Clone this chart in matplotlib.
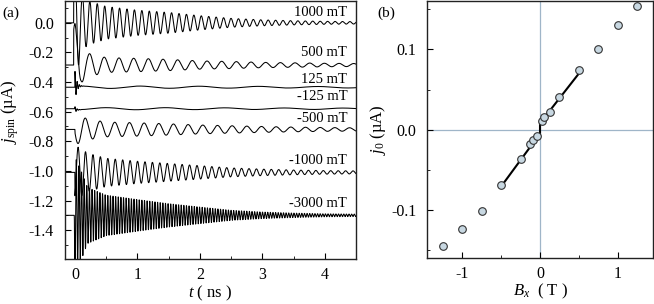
import numpy as np
import matplotlib
matplotlib.use("Agg")
import matplotlib.pyplot as plt
from matplotlib.ticker import MultipleLocator, FormatStrFormatter

plt.rcParams['font.family'] = ['Liberation Serif', 'DejaVu Serif']
plt.rcParams['mathtext.fontset'] = 'custom'
plt.rcParams['mathtext.rm'] = 'Liberation Serif'
plt.rcParams['mathtext.it'] = 'Liberation Serif:italic'
plt.rcParams['axes.unicode_minus'] = False

# ---- panel (a): spin current traces ----
field_labels = ['1000 mT', '500 mT', '125 mT', '-125 mT', '-500 mT', '-1000 mT', '-3000 mT']
offsets = [0.0, -0.285, -0.435, -0.58, -0.72, -1.01, -1.30]
periods = [0.119, 0.235, 0.95, 0.95, 0.235, 0.119, 0.042]     # ns
phase_t0 = [0.0, 0.0, 1.04, 0.5, 0.05, 0.05, 0.0]             # ns
signs = [1, 1, 1, 1, -1, 1, -1]
start_t = [-0.02, -0.02, 0.0, 0.0, 0.0, 0.0, -0.01]
env_t = [0, 0.1, 0.2, 0.5, 1, 1.5, 2, 2.5, 3, 3.5, 4, 4.5]
env_1000 = [0.40, 0.20, 0.15, 0.11, 0.085, 0.07, 0.048, 0.03, 0.02, 0.014, 0.01, 0.008]
env_500 = [0.28, 0.12, 0.08, 0.05, 0.045, 0.038, 0.028, 0.024, 0.018, 0.015, 0.012, 0.01]
env_125 = [0.008, 0.008, 0.008, 0.008, 0.008, 0.007, 0.007, 0.006, 0.006, 0.005, 0.005, 0.005]
env_m125 = [0.007, 0.007, 0.007, 0.007, 0.007, 0.007, 0.006, 0.006, 0.005, 0.005, 0.005, 0.004]
env_m500 = [0.10, 0.09, 0.07, 0.05, 0.045, 0.038, 0.03, 0.025, 0.02, 0.016, 0.013, 0.011]
env_m1000 = [0.18, 0.16, 0.13, 0.095, 0.075, 0.06, 0.045, 0.03, 0.022, 0.016, 0.012, 0.01]
env_m3000 = [0.40, 0.30, 0.19, 0.137, 0.107, 0.079, 0.056, 0.034, 0.022, 0.015, 0.01, 0.008]
envelopes = [env_1000, env_500, env_125, env_m125, env_m500, env_m1000, env_m3000]
kick_amp = [0, 0, 0.10, 0.02, 0, 0, 0]   # short ringing at t=0
label_y = [0.07, -0.20, -0.38, -0.50, -0.645, -0.93, -1.22]

# ---- panel (b): j0 vs Bx ----
bx = [-1.25, -1.0, -0.75, -0.5, -0.25, -0.125, -0.09, -0.04,
      0.025, 0.055, 0.125, 0.25, 0.5, 0.75, 1.0, 1.25]
j0 = [-0.145, -0.1245, -0.1017, -0.0697, -0.037, -0.0174, -0.0133, -0.008,
      0.0107, 0.0157, 0.022, 0.0405, 0.074, 0.100, 0.130, 0.154]
fit_bx = [-0.5, 0.0, 0.0, 0.5]
fit_j0 = [-0.071, -0.005, 0.008, 0.070]

fig = plt.figure(figsize=(6.54, 3.04), dpi=100)
axa = fig.add_axes([0.0994, 0.148, 0.4449, 0.850])
axb = fig.add_axes([0.6534, 0.152, 0.3446, 0.846])

t = np.arange(-0.15, 4.5, 0.002)
for i in range(len(offsets)):
    env = np.interp(t, env_t, envelopes[i])
    osc = signs[i] * env * np.cos(2 * np.pi * (t - phase_t0[i]) / periods[i])
    kick = kick_amp[i] * np.exp(-np.clip(t, 0, None) / 0.03) * np.cos(2 * np.pi * t / 0.035)
    y = offsets[i] + np.where(t >= start_t[i], osc + kick, 0.0)
    axa.plot(t, y, color='black', lw=0.75)
    axa.text(4.36, label_y[i], field_labels[i], ha='right', va='center', fontsize=10.5)

axa.set_xlim(-0.16, 4.5)
axa.set_ylim(-1.595, 0.15)
axa.xaxis.set_major_locator(MultipleLocator(1))
axa.xaxis.set_minor_locator(MultipleLocator(0.5))
axa.yaxis.set_major_locator(MultipleLocator(0.2))
axa.yaxis.set_minor_locator(MultipleLocator(0.1))
axa.yaxis.set_major_formatter(FormatStrFormatter('%.1f'))
axa.set_xlabel(r'$t$ ( ns )', fontsize=12, labelpad=0)
axa.set_ylabel(r'$j_{\rm spin}$ (µA)', fontsize=12)
axa.yaxis.set_label_coords(-0.152, 0.57)

axb.axhline(0, color='#9fb5c8', lw=0.9, zorder=0)
axb.axvline(0, color='#9fb5c8', lw=0.9, zorder=0)
axb.plot(fit_bx, fit_j0, color='black', lw=1.5, zorder=2)
axb.plot(bx, j0, 'o', ms=5.5, mfc='#c8d8e2', mec='#333333', mew=0.8, zorder=3)
axb.set_xlim(-1.45, 1.45)
axb.set_ylim(-0.16, 0.161)
axb.xaxis.set_major_locator(MultipleLocator(1))
axb.xaxis.set_minor_locator(MultipleLocator(0.5))
axb.yaxis.set_major_locator(MultipleLocator(0.1))
axb.yaxis.set_minor_locator(MultipleLocator(0.05))
axb.yaxis.set_major_formatter(FormatStrFormatter('%.1f'))
axb.set_xlabel(r'$B_x$  ( T )', fontsize=12, labelpad=0)
axb.set_ylabel(r'$j_0$ (µA)', fontsize=12)
axb.yaxis.set_label_coords(-0.175, 0.5)

for ax in (axa, axb):
    ax.tick_params(which='both', direction='in', labelsize=11.5, top=False, right=False)
    ax.tick_params(which='major', length=4)
    ax.tick_params(axis='y', which='major', pad=8)
    ax.tick_params(axis='x', which='major', pad=6)
    ax.tick_params(which='minor', length=2)
    for s in ax.spines.values():
        s.set_linewidth(1.0)
        s.set_color('#222222')

fig.text(0.003, 0.955, '(a)', fontsize=11, va='center')
fig.text(0.577, 0.955, '(b)', fontsize=11, va='center')

fig.savefig('out.png', dpi=100)
